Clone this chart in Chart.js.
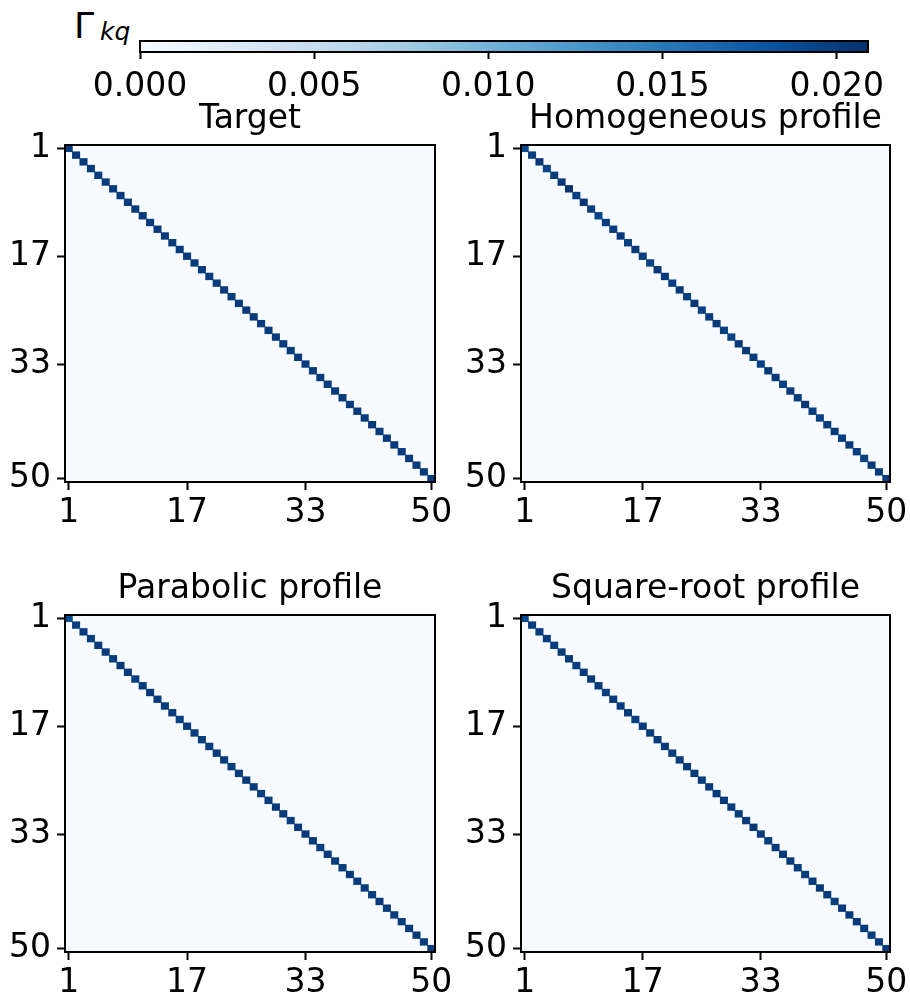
<!DOCTYPE html>
<html><head><meta charset="utf-8">
<script src="https://cdn.jsdelivr.net/npm/chart.js@4/dist/chart.umd.min.js"></script>
<style>
html,body{margin:0;padding:0;background:#fff;}
body{width:910px;height:1004px;position:relative;overflow:hidden;font-family:"DejaVu Sans",sans-serif;color:#000;}
canvas{position:absolute;display:block;}
.lab{position:absolute;line-height:1;white-space:nowrap;}
</style></head>
<body>
<span class="lab" style="left:74px;top:8px;font-size:36px;">Γ</span>
<span class="lab" style="left:100px;top:19px;font-size:25px;font-style:italic;">kq</span>
<canvas id="cb" width="910" height="100" style="left:0;top:0"></canvas>
<canvas id="p0" width="460" height="444" style="left:0;top:90px"></canvas>
<canvas id="p1" width="454" height="444" style="left:456px;top:90px"></canvas>
<canvas id="p2" width="460" height="444" style="left:0;top:560px"></canvas>
<canvas id="p3" width="454" height="444" style="left:456px;top:560px"></canvas>
<script>
// ---- data ----
const categories = ['1','2','3','4','5','6','7','8','9','10','11','12','13','14','15','16','17','18','19','20',
 '21','22','23','24','25','26','27','28','29','30','31','32','33','34','35','36','37','38','39','40',
 '41','42','43','44','45','46','47','48','49','50'];
const axisTicks = [1, 17, 33, 50];
const colorbarTicks = [0.000, 0.005, 0.010, 0.015, 0.020];
const vmin = 0.0, vmax = 0.0209;
const offDiagValue = 0.0;
const panelTitles = ['Target', 'Homogeneous profile', 'Parabolic profile', 'Square-root profile'];
const targetDiag = [0.0200,0.0200,0.0200,0.0200,0.0200,0.0200,0.0200,0.0200,0.0200,0.0200,
 0.0200,0.0200,0.0200,0.0200,0.0200,0.0200,0.0200,0.0200,0.0200,0.0200,
 0.0200,0.0200,0.0200,0.0200,0.0200,0.0200,0.0200,0.0200,0.0200,0.0200,
 0.0200,0.0200,0.0200,0.0200,0.0200,0.0200,0.0200,0.0200,0.0200,0.0200,
 0.0200,0.0200,0.0200,0.0200,0.0200,0.0200,0.0200,0.0200,0.0200,0.0200];
const homogeneousDiag = [0.0190,0.0198,0.0203,0.0194,0.0199,0.0204,0.0207,0.0197,0.0205,0.0199,
 0.0193,0.0200,0.0198,0.0201,0.0196,0.0202,0.0199,0.0195,0.0203,0.0200,
 0.0197,0.0201,0.0199,0.0204,0.0196,0.0200,0.0202,0.0198,0.0195,0.0201,
 0.0203,0.0199,0.0197,0.0200,0.0202,0.0196,0.0201,0.0199,0.0204,0.0198,
 0.0195,0.0200,0.0202,0.0197,0.0201,0.0199,0.0196,0.0203,0.0200,0.0198];
const parabolicDiag = [0.0188,0.0198,0.0200,0.0199,0.0201,0.0200,0.0198,0.0201,0.0200,0.0199,
 0.0200,0.0201,0.0199,0.0200,0.0200,0.0198,0.0201,0.0200,0.0199,0.0200,
 0.0201,0.0200,0.0199,0.0200,0.0201,0.0200,0.0199,0.0200,0.0200,0.0201,
 0.0199,0.0200,0.0200,0.0201,0.0199,0.0200,0.0200,0.0199,0.0201,0.0200,
 0.0200,0.0199,0.0201,0.0200,0.0200,0.0199,0.0200,0.0201,0.0199,0.0200];
const sqrtDiag = [0.0190,0.0199,0.0200,0.0200,0.0199,0.0201,0.0200,0.0199,0.0200,0.0201,
 0.0200,0.0199,0.0200,0.0200,0.0201,0.0199,0.0200,0.0200,0.0201,0.0200,
 0.0199,0.0200,0.0201,0.0200,0.0199,0.0200,0.0200,0.0201,0.0200,0.0199,
 0.0200,0.0201,0.0200,0.0199,0.0200,0.0200,0.0201,0.0200,0.0199,0.0200,
 0.0201,0.0200,0.0199,0.0200,0.0200,0.0201,0.0200,0.0199,0.0200,0.0200];
const panelDiags = [targetDiag, homogeneousDiag, parabolicDiag, sqrtDiag];

// ---- colormap (matplotlib Blues) ----
const BLUES = ['#f7fbff','#deebf7','#c6dbef','#9ecae1','#6baed6','#4292c6','#2171b5','#08519c','#08306b'];
function hex2rgb(h){return [parseInt(h.slice(1,3),16),parseInt(h.slice(3,5),16),parseInt(h.slice(5,7),16)];}
function cmap(v){
  let t=(v-vmin)/(vmax-vmin); t=Math.max(0,Math.min(1,t));
  const p=t*(BLUES.length-1); let i=Math.floor(p); if(i>=BLUES.length-1) i=BLUES.length-2;
  const f=p-i; const a=hex2rgb(BLUES[i]), b=hex2rgb(BLUES[i+1]);
  const c=a.map((x,k)=>Math.round(x+(b[k]-x)*f));
  return 'rgb('+c.join(',')+')';
}

Chart.defaults.font.family = '"DejaVu Sans", sans-serif';
Chart.defaults.color = '#000';
Chart.defaults.animation = false;

const FONT = {family:'"DejaVu Sans", sans-serif', size:33, weight:'normal'};
const LW = 2;

const framePlugin = {
  id:'frame',
  beforeDatasetsDraw(chart, args, opts){
    if(opts.fill){
      const a=chart.chartArea, c=chart.ctx;
      c.save(); c.fillStyle=opts.fill; c.fillRect(a.left,a.top,a.right-a.left,a.bottom-a.top); c.restore();
    }
  },
  afterDatasetsDraw(chart){
    const a=chart.chartArea, c=chart.ctx;
    c.save(); c.strokeStyle='#000'; c.lineWidth=LW;
    c.strokeRect(a.left,a.top,a.right-a.left,a.bottom-a.top); c.restore();
  }
};

// ---- colorbar ----
new Chart(document.getElementById('cb'), {
  type:'bar',
  data:{labels:[''], datasets:[{
    data:[[vmin, vmax]],
    backgroundColor:(ctx)=>{
      const ch=ctx.chart; const xs=ch.scales.x; if(!xs || !ch.chartArea) return BLUES[4];
      const g=ch.ctx.createLinearGradient(xs.getPixelForValue(vmin),0,xs.getPixelForValue(vmax),0);
      BLUES.forEach((col,i)=>g.addColorStop(i/(BLUES.length-1),col));
      return g;
    },
    borderWidth:0, barPercentage:1, categoryPercentage:1
  }]},
  options:{
    indexAxis:'y', responsive:false, animation:false,
    layout:{autoPadding:false, padding:{left:140,right:42,top:41,bottom:0}},
    plugins:{legend:{display:false}, tooltip:{enabled:false}, frame:{}},
    scales:{
      x:{type:'linear', min:vmin, max:vmax, position:'bottom',
        afterBuildTicks:(s)=>{s.ticks=colorbarTicks.map(v=>({value:v}));},
        afterFit:(s)=>{s.height=48; s.paddingLeft=0; s.paddingRight=0;},
        grid:{display:true, drawOnChartArea:false, drawTicks:true, tickLength:7, tickWidth:LW, tickColor:'#000'},
        border:{display:true, color:'#000', width:LW},
        ticks:{font:FONT, color:'#000', padding:9, maxRotation:0, autoSkip:false,
          callback:(v)=>Number(v).toFixed(3)}
      },
      y:{type:'category', display:false, offset:true}
    }
  },
  plugins:[framePlugin]
});

// ---- panels ----
function makePanel(id, title, diag, padRight){
  new Chart(document.getElementById(id), {
    type:'bar',
    data:{labels:categories, datasets:[{
      data: diag.map((v,i)=>[i+0.5, i+1.5]),
      backgroundColor: diag.map(v=>cmap(v)),
      borderWidth:0, barPercentage:1, categoryPercentage:1
    }]},
    options:{
      responsive:false, animation:false,
      layout:{autoPadding:false, padding:{left:0,right:padRight,top:0,bottom:0}},
      plugins:{
        legend:{display:false}, tooltip:{enabled:false},
        title:{display:true, text:title, font:FONT, color:'#000', fullSize:false, padding:{top:9.8,bottom:5.6}},
        frame:{fill:cmap(offDiagValue)}
      },
      scales:{
        x:{type:'category', offset:true, position:'bottom',
          afterBuildTicks:(s)=>{s.ticks=axisTicks.map(v=>({value:v-1}));},
          afterFit:(s)=>{s.height=52; s.paddingLeft=0; s.paddingRight=0;},
          grid:{display:true, offset:false, drawOnChartArea:false, drawTicks:true, tickLength:8, tickWidth:LW, tickColor:'#000'},
          border:{display:true, color:'#000', width:LW},
          ticks:{font:FONT, color:'#000', padding:4, maxRotation:0, autoSkip:false}
        },
        y:{type:'linear', min:0.5, max:50.5, reverse:true, position:'left',
          afterBuildTicks:(s)=>{s.ticks=axisTicks.map(v=>({value:v}));},
          afterFit:(s)=>{s.width=65; s.paddingTop=0; s.paddingBottom=0;},
          grid:{display:true, drawOnChartArea:false, drawTicks:true, tickLength:8, tickWidth:LW, tickColor:'#000'},
          border:{display:true, color:'#000', width:LW},
          ticks:{font:FONT, color:'#000', padding:6, autoSkip:false, callback:(v)=>String(v)}
        }
      }
    },
    plugins:[framePlugin]
  });
}
makePanel('p0', panelTitles[0], panelDiags[0], 25);
makePanel('p1', panelTitles[1], panelDiags[1], 20);
makePanel('p2', panelTitles[2], panelDiags[2], 25);
makePanel('p3', panelTitles[3], panelDiags[3], 20);
</script>
</body></html>
